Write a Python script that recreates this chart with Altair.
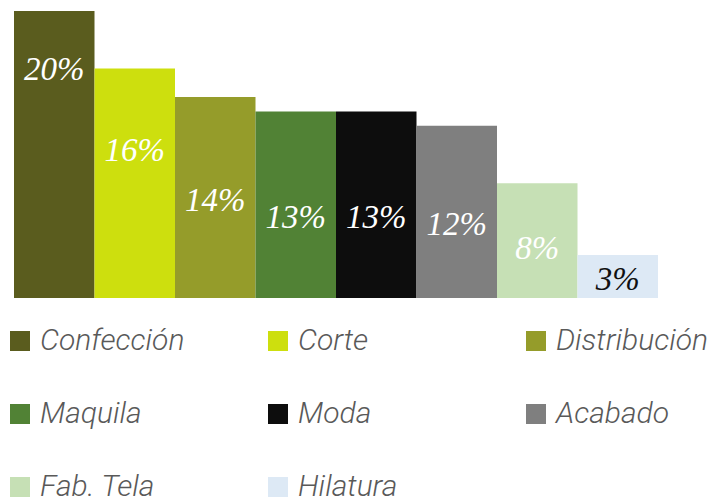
import altair as alt
import pandas as pd

categories = ["Confección", "Corte", "Distribución", "Maquila", "Moda", "Acabado", "Fab. Tela", "Hilatura"]
values = [20, 16, 14, 13, 13, 12, 8, 3]
labels = ["20%", "16%", "14%", "13%", "13%", "12%", "8%", "3%"]

# styling
palette = ["#5a5c1e", "#cddf0e", "#959c2a", "#518235", "#0d0d0d", "#7f7f7f", "#c6e0b5", "#dde9f5"]
label_fill = ["#ffffff", "#ffffff", "#ffffff", "#ffffff", "#ffffff", "#ffffff", "#ffffff", "#111111"]
label_anchor = [15.2, 9.55, 6.06, 4.88, 4.88, 4.39, 2.72, 0.56]

df = pd.DataFrame({
    "cat": categories,
    "value": values,
    "label": labels,
    "lfill": label_fill,
    "ly": label_anchor,
})

x = alt.X("cat:N", sort=categories, axis=None,
          scale=alt.Scale(paddingInner=0, paddingOuter=0))

bars = alt.Chart(df).mark_bar(strokeWidth=0).encode(
    x=x,
    y=alt.Y("value:Q", axis=None, scale=alt.Scale(domain=[0, 20], nice=False)),
    color=alt.Color(
        "cat:N", sort=categories,
        scale=alt.Scale(domain=categories, range=palette),
        legend=alt.Legend(
            title=None, orient="none", legendX=-9, legendY=315,
            direction="horizontal", columns=3, columnPadding=70, rowPadding=43,
            gridAlign="all", symbolType="square", symbolSize=400,
            symbolStrokeWidth=0, symbolOpacity=1,
            labelFont="Roboto", labelFontStyle="italic", labelFontWeight=300,
            labelFontSize=30, labelColor="#595959", labelOffset=5, labelLimit=400,
        ),
    ),
)

text = alt.Chart(df).mark_text(
    font="Liberation Serif", fontStyle="italic", fontSize=33, baseline="alphabetic", align="center"
).encode(
    x=x,
    y=alt.Y("ly:Q", scale=alt.Scale(domain=[0, 20], nice=False)),
    text="label:N",
    fill=alt.Fill("lfill:N", scale=None),
)

chart = alt.layer(bars, text).properties(
    width=644, height=287,
    autosize=alt.AutoSizeParams(type="none"),
    padding={"left": 14, "top": 11, "right": 57, "bottom": 201},
).configure(background="white").configure_view(strokeWidth=0)

chart.save("out.html", embed_options={"renderer": "svg", "actions": False})
